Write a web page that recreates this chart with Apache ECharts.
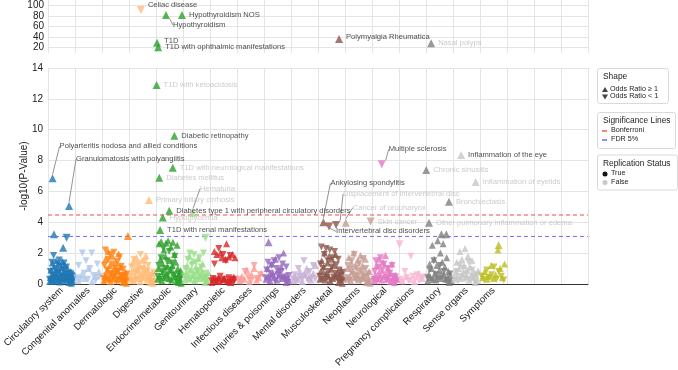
<!DOCTYPE html>
<html><head><meta charset="utf-8">
<script src="https://cdn.jsdelivr.net/npm/echarts@6/dist/echarts.min.js"></script>
<style>html,body{margin:0;padding:0;background:#fff}#c{width:678px;height:370px}</style>
</head><body><div id="c"></div>
<script>
// ---------------- DATA ----------------
const categories = ['Circulatory system','Congenital anomalies','Dermatologic','Digestive','Endocrine/metabolic','Genitourinary','Hematopoietic','Infectious diseases','Injuries & poisonings','Mental disorders','Musculoskeletal','Neoplasms','Neurological','Pregnancy complications','Respiratory','Sense organs','Symptoms'];
const categoryColors = ['#1f77b4','#aec7e8','#ff7f0e','#ffbb78','#2ca02c','#98df8a','#d62728','#ff9896','#9467bd','#c5b0d5','#8c564b','#c49c94','#e377c2','#f7b6d2','#7f7f7f','#c7c7c7','#bcbd22'];
const topTicks = [20,40,60,80,100];
const bonferroni = 4.47;
const fdr5 = 3.08;
const xExtent = [0, 20];

// -log10(p) of phenotypes with odds ratio >= 1, per category (in phenotype order)
const upValues = [
 [0.15,0.42,0.9,0.25,1.35,0.6,0.18,1.1,0.75,0.3,1.5,0.5,0.22,0.95,1.25,0.4,0.12,0.7,1.05,0.35,1.45,0.55,0.2,0.85,1.2,0.45,0.28,0.65,1.0,0.38,0.1,0.55,0.3,0.8,0.05,0.45,0.2,0.7],
 [0.2,0.6,0.35,1.0,0.15,0.5,0.8],
 [0.2,0.5,1.6,0.3,0.9,2.1,0.4,1.2,0.15,0.7,1.8,0.35,1.0,0.6,1.4,0.25,0.8,1.95,0.45,1.1,0.3,0.65,0.1,0.5,0.25,0.75,0.05,0.4],
 [0.3,0.8,1.4,0.2,1.0,0.5,1.7,0.35,0.9,1.25,0.15,0.6,1.5,0.4,1.1,0.75,1.85,0.25,0.95,0.55,0.1,0.45,0.2,0.7,0.05,0.35],
 [0.3,1.0,2.6,0.5,1.6,2.75,0.2,1.3,0.8,2.2,0.4,1.8,2.65,0.6,1.1,2.8,0.35,1.5,0.9,2.4,0.25,1.2,2.7,0.7,1.9,0.45,1.4,0.15,2.5,1.0,0.1,0.6,0.3,0.85,0.05],
 [0.25,0.7,1.2,0.4,1.8,0.3,0.95,1.5,0.55,0.2,1.1,0.8,1.65,0.35,1.0,0.6,1.3,0.45,0.1,0.5,0.2,0.75],
 [0.1,0.3,2.1,0.2,1.9,0.4,0.15,2.0,1.7,0.25,0.35,1.6,2.6,0.2,1.75,0.1,0.3,1.9,0.45,1.7],
 [0.2,0.5,0.3,0.9,0.15,0.6,1.0,0.25,0.4,0.7],
 [0.3,1.0,0.5,0.2,1.3,0.7,0.4,1.6,0.25,0.9,0.6,1.1,0.35,2.0,0.5,0.1,0.45,0.2],
 [0.2,0.5,0.3,0.8,0.15,0.6,1.0,0.4,0.25,0.7,1.2],
 [0.3,0.8,1.5,0.4,1.1,2.0,0.25,0.65,1.35,0.5,1.8,0.2,0.95,1.6,0.35,1.2,0.55,1.9,0.45,0.75,0.1,0.6,0.3,0.85,0.05,0.4],
 [0.3,1.0,1.7,0.5,0.2,1.3,0.8,2.0,0.4,1.1,0.6,1.5,0.25,0.9,1.85,0.45,1.2,0.35,0.7,1.6,0.1,0.55,0.2,0.8,0.05],
 [0.2,0.6,1.2,0.35,1.6,0.9,0.25,1.4,0.5,1.85,0.3,1.05,0.7,0.15,1.3,0.45,0.1,0.55,0.3],
 [0.2,0.5,0.3,0.15,0.7,0.35],
 [0.2,0.6,1.3,0.4,1.0,2.5,0.3,1.6,0.7,0.25,1.2,2.8,0.5,0.9,2.0,0.35,1.4,2.6,0.6,1.1,0.3,1.7,0.45,0.8,0.1,0.55,0.2],
 [0.3,0.8,1.4,0.5,1.0,2.1,0.35,1.6,0.7,1.2,2.3,0.45,0.9,1.8,0.25,1.1,0.6,1.5,0.4,0.75,0.1,0.55,0.2,0.85],
 [0.4,0.8,0.3,0.5,1.2,0.35,0.6,2.2,1.0,0.4,1.3]
];
// -log10(p) of phenotypes with odds ratio < 1, per category
const downValues = [
 [0.3,0.8,0.2,1.4,0.55,1.85,0.35,1.0,0.6,0.25,1.3,0.75,1.55,0.4,0.15,1.15,0.5,0.9,1.35,0.3,0.65,1.1,0.45,0.2,0.1,0.7,0.35,0.05,0.5,0.25],
 [0.4,1.2,0.25,2.0,0.7,1.5,0.3,1.0,2.0,0.55,0.2,1.3,0.45],
 [0.35,1.2,2.2,0.5,0.9,1.6,0.25,1.9,0.7,1.3,0.4,2.05,0.6,1.0,0.2,1.45,0.8,1.75,0.3,1.15,0.55,0.95,0.1,0.45,0.2,0.65],
 [0.4,1.1,0.2,1.6,0.7,0.3,1.3,0.9,0.5,1.9,0.25,1.0,0.65,1.45,0.35,0.85,1.2,0.45,0.1,0.55,0.15,0.75],
 [0.5,1.2,0.3,1.7,0.8,2.3,0.4,1.0,1.5,0.6,2.1,0.2,0.9,1.35,0.55,1.8,0.35,0.1,0.65,0.25,0.45],
 [0.5,1.0,0.3,1.6,0.75,2.0,0.4,1.25,0.6,1.9,0.2,1.4,0.85,0.35,1.7,0.55,1.1,0.3,2.0,0.7,0.1,0.45,0.15],
 [0.2,0.35,1.3,0.15,0.25,2.3,0.5,0.2,1.9,0.3,1.5,0.1,0.4,1.85,0.25,0.05,0.3],
 [0.3,0.15,0.8,0.45,0.2,1.2,0.35,0.6],
 [0.4,0.9,1.4,0.3,0.7,1.2,0.5,1.5,0.2,1.0,0.6,1.7,0.35,0.8,1.3,0.45,0.25,1.1,0.1,0.55],
 [0.35,0.6,0.2,1.0,0.45,0.3,1.5,0.55,0.25,0.8,0.4,1.2,0.3],
 [0.5,1.3,2.4,0.3,1.0,1.9,0.6,2.3,0.4,1.5,0.8,2.2,0.25,1.1,1.7,0.45,2.1,0.7,1.25,0.35,1.6,0.9,0.1,0.55,0.2,0.75],
 [0.4,1.2,0.25,0.9,1.5,0.6,1.9,0.3,1.05,0.5,1.35,0.2,0.8,1.65,0.45,1.0,0.1,0.65,0.15],
 [0.3,0.8,1.5,0.2,1.1,0.5,1.7,0.35,0.95,1.3,0.6,0.25,1.0,0.4,0.7,0.15,1.2,0.5,0.05,0.45,0.2],
 [0.3,0.15,0.8,0.4,0.2,1.8,0.5,0.25,0.6,0.2,0.35,0.45],
 [0.4,0.9,0.25,1.5,0.6,0.3,1.2,0.5,0.8,0.2,0.1,0.65],
 [0.35,0.8,0.2,1.2,0.5,1.0,0.3,0.65,1.4,0.25,0.9,0.45,0.1,0.6],
 [0.5,0.3,0.9,0.4,0.6,1.1,0.3,0.8,0.5,0.25]
];

// Notable phenotypes (labelled when named)
const hitNames = ['Celiac disease','Hypothyroidism','Hypothyroidism NOS','T1D','T1D with ophthalmic manifestations','Polymyalgia Rheumatica','Nasal polyps',
 'T1D with ketoacidosis','Diabetic retinopathy','Polyarteritis nodosa and allied conditions','Granulomatosis with polyangiitis','T1D with neurological manifestations','Diabetes mellitus','Hematuria','Primary biliary cirrhosis','Diabetes type 1 with peripheral circulatory disorders','Hypoglycemia','T1D with renal manifestations','Ankylosing spondylitis','Intervertebral disc disorders','Displacement of intervertebral disc','Cancer of oropharynx','Multiple sclerosis','Skin cancer','Chronic sinusitis','Other pulmonary inflammation or edema','Bronchiectasis','Inflammation of the eye','Inflammation of eyelids',
 '','','','','','','','','',''];
const hitCategory = [3,4,4,4,4,10,14, 4,4,0,0,4,4,5,3,4,4,4,10,10,10,11,12,11,14,14,14,15,15, 0,0,0,2,5,8,14,14,16,13];
const hitOrder    = [0.44,0.37,0.96,0.04,0.08,0.78,0.19, 0.02,0.68,0.17,0.78,0.62,0.12,0.37,0.74,0.49,0.25,0.15,0.2,0.41,0.67,0.03,0.36,0.95,0.01,0.11,0.85,0.3,0.84, 0.22,0.69,0.56,0.96,0.83,0.17,0.57,0.75,0.69,0.02];
const hitValues   = [91,81.5,81.5,29.5,21,36.5,28.5, 12.9,9.6,6.85,5.05,7.54,6.89,4.62,5.44,4.75,4.3,3.5,4.0,3.73,3.82,3.97,7.76,4.04,7.39,3.97,5.33,8.36,6.61, 3.22,3.0,2.35,3.1,3.0,2.7,3.22,3.22,2.5,2.57];
const hitOddsUp   = [false,true,true,true,true,true,true, true,true,true,true,true,true,true,true,true,true,true,true,false,false,true,false,false,true,true,true,true,true, true,false,true,true,false,true,true,true,true,false];
const hitReplicated = [true,true,true,true,true,true,false, false,true,true,true,false,false,false,false,true,false,true,true,true,false,false,true,false,false,false,false,true,false, true,true,true,true,true,true,true,true,true,true];
const hitInTopPanel = [true,true,true,true,true,true,true, false,false,false,false,false,false,false,false,false,false,false,false,false,false,false,false,false,false,false,false,false,false, false,false,false,false,false,false,false,false,false,false];

// ---------------- STYLE ----------------
const FONT = 'Liberation Sans, Arial, sans-serif';
const labelShift = { // [dy, showLeaderLine]
 'Celiac disease':[-5.5,false],'Hypothyroidism':[10,true],'T1D':[-2,false],'Polymyalgia Rheumatica':[-2,false],
 'Polyarteritis nodosa and allied conditions':[-32,true],'Granulomatosis with polyangiitis':[-47,true],
 'Hematuria':[-24,true],'Multiple sclerosis':[-15,true],'Ankylosing spondylitis':[-39,true],
 'Intervertebral disc disorders':[5,true],'Displacement of intervertebral disc':[-31,true],'Cancer of oropharynx':[-15,true]
};

function spread(k, i, n, shift) { return k + 0.05 + 0.9 * (i + shift) / n; }

const series = [];

// significance thresholds drawn as horizontal lines across the whole x range
function threshold(value, color) {
  return {type:'line', xAxisIndex:1, yAxisIndex:1, z:4, silent:true, symbol:'none', showSymbol:false,
    lineStyle:{color:color, type:[4,3], width:1},
    itemStyle:{color:color},
    data: xExtent.map(x => [x, value])};
}
series.push(threshold(bonferroni, '#f04848'));
series.push(threshold(fdr5, '#6f6fff'));

categories.forEach((c, k) => {
  series.push({type:'scatter', xAxisIndex:1, yAxisIndex:1, symbol:'triangle', symbolSize:7, z:2,
    itemStyle:{color:categoryColors[k]}, silent:true,
    data: upValues[k].map((v,i)=>[spread(k,i,upValues[k].length,0.5), v])});
  series.push({type:'scatter', xAxisIndex:1, yAxisIndex:1, symbol:'triangle', symbolSize:7, symbolRotate:180, z:2,
    itemStyle:{color:categoryColors[k]}, silent:true,
    data: downValues[k].map((v,i)=>[spread(k,i,downValues[k].length,0.2), v])});
});

function hitSeries(top) {
  const names = [];
  const data = [];
  hitNames.forEach((n, i) => {
    if (hitInTopPanel[i] !== top) return;
    const sh = labelShift[n];
    names.push(n);
    data.push({
      name: n,
      value: [hitCategory[i] + hitOrder[i], hitValues[i]],
      symbolRotate: hitOddsUp[i] ? 0 : 180,
      itemStyle: {color: categoryColors[hitCategory[i]]},
      label: {show: n !== '', color: hitReplicated[i] ? '#222' : '#bdbdbd'},
      labelLine: {show: !!(sh && sh[1]), lineStyle:{color:'#777', width:0.8}}
    });
  });
  return {
    type:'scatter', xAxisIndex: top?0:1, yAxisIndex: top?0:1, symbol:'triangle', symbolSize:8, z:5, silent:true,
    label:{show:true, position:'right', distance:3, formatter:'{b}', fontSize:7.6, fontFamily:FONT},
    labelLine:{show:false, lineStyle:{color:'#777', width:0.8}, length2:0},
    labelLayout: function(p){ const sh = labelShift[names[p.dataIndex]]; return sh ? {dy: sh[0]} : {}; },
    data: data
  };
}
series.push(hitSeries(true));
series.push(hitSeries(false));

const gridLine = {show:true, lineStyle:{color:'#e4e4e4', width:1}};
const axisLbl = {color:'#222', fontSize:10, fontFamily:FONT};

// legend boxes and axis title
const g = [];
g.push({type:'text', x:24, y:176, rotation:Math.PI/2,
  style:{text:'-log10(P-Value)', fontSize:10, fill:'#222', fontFamily:FONT, align:'center', verticalAlign:'middle'}});
function box(y0, h, w, title) {
  g.push({type:'rect', left:597, top:y0, shape:{width:w, height:h, r:2}, style:{fill:'#fff', stroke:'#d9d9d9', lineWidth:1}});
  g.push({type:'text', left:603, top:y0+5, style:{text:title, fontSize:8.4, fill:'#222', fontFamily:FONT}});
}
box(68, 35, 71, 'Shape');
g.push({type:'polygon', shape:{points:[[602,92],[608,92],[605,87]]}, style:{fill:'#444'}});
g.push({type:'text', left:610, top:85.5, style:{text:'Odds Ratio \u2265 1', fontSize:7.2, fill:'#222', fontFamily:FONT}});
g.push({type:'polygon', shape:{points:[[602,94.5],[608,94.5],[605,99.5]]}, style:{fill:'#444'}});
g.push({type:'text', left:610, top:93, style:{text:'Odds Ratio < 1', fontSize:7.2, fill:'#222', fontFamily:FONT}});
box(112, 36, 78, 'Significance Lines');
g.push({type:'line', shape:{x1:602, y1:131, x2:607, y2:131}, style:{stroke:'#ee3333', lineWidth:1.2}});
g.push({type:'text', left:611, top:127, style:{text:'Bonferroni', fontSize:7.2, fill:'#222', fontFamily:FONT}});
g.push({type:'line', shape:{x1:602, y1:140, x2:607, y2:140}, style:{stroke:'#4444ff', lineWidth:1.2}});
g.push({type:'text', left:611, top:136, style:{text:'FDR 5%', fontSize:7.2, fill:'#222', fontFamily:FONT}});
box(154.5, 35, 80, 'Replication Status');
g.push({type:'circle', shape:{cx:605, cy:174, r:2.5}, style:{fill:'#111'}});
g.push({type:'text', left:611, top:170, style:{text:'True', fontSize:7.2, fill:'#222', fontFamily:FONT}});
g.push({type:'circle', shape:{cx:605, cy:182.5, r:2.5}, style:{fill:'#c8c8c8'}});
g.push({type:'text', left:611, top:178.5, style:{text:'False', fontSize:7.2, fill:'#222', fontFamily:FONT}});

const option = {
  animation:false,
  backgroundColor:'#fff',
  textStyle:{fontFamily:FONT},
  grid:[{left:48, right:90, top:0, height:53},{left:48, right:90, top:68, bottom:86}],
  xAxis:[
    {type:'value', gridIndex:0, min:0, max:20, interval:1, axisLabel:{show:false}, axisTick:{show:false}, axisLine:{show:false}, splitLine:gridLine},
    {type:'value', gridIndex:1, min:0, max:20, interval:1, axisLabel:{show:false}, axisTick:{show:false}, axisLine:{show:false}, splitLine:gridLine},
    {type:'category', gridIndex:1, position:'bottom', data:categories.concat(['','','']),
      axisLine:{show:true, onZero:false, lineStyle:{color:'#333', width:1}}, axisTick:{show:false}, splitLine:{show:false},
      axisLabel:{rotate:45, interval:0, margin:5, color:'#222', fontSize:9.6, fontFamily:FONT}}
  ],
  yAxis:[
    {type:'value', gridIndex:0, min:10, max:110, axisLine:{show:false},
      axisTick:{show:false, customValues:topTicks}, axisLabel:Object.assign({customValues:topTicks, margin:4}, axisLbl), splitLine:gridLine},
    {type:'value', gridIndex:1, min:0, max:14, interval:2, axisLine:{show:false}, axisTick:{show:false},
      axisLabel:Object.assign({margin:5}, axisLbl), splitLine:gridLine}
  ],
  series: series,
  graphic: g
};
const chart = echarts.init(document.getElementById('c'), null, {renderer:'canvas'});
chart.setOption(option);
</script></body></html>
